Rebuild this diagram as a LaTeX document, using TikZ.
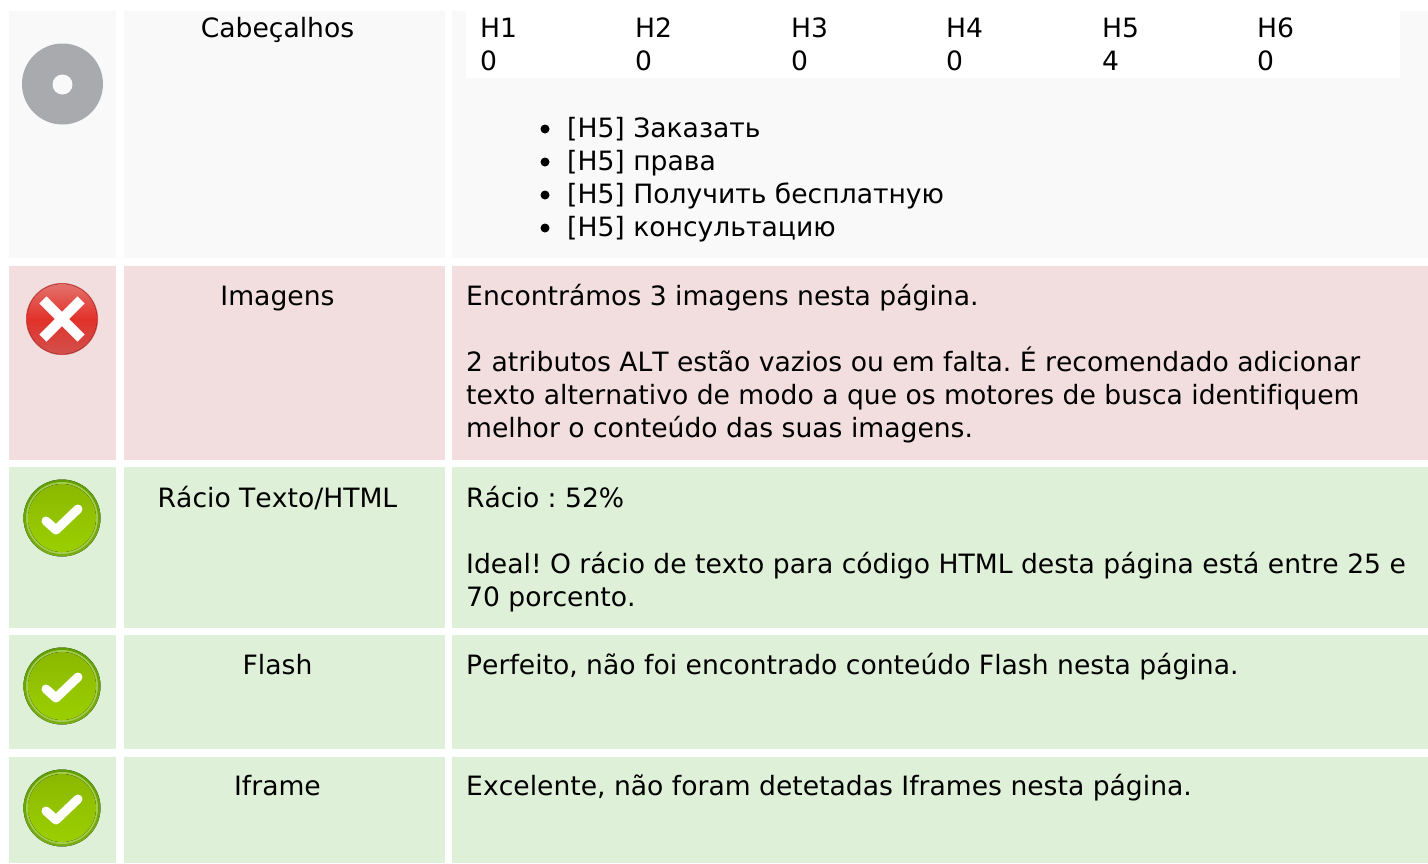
\documentclass[tikz,border=0pt]{standalone}
\usepackage{fontspec}
\setmainfont[Ligatures=NoCommon,Kerning=Off]{DejaVu Sans}
\frenchspacing
\definecolor{cellgrey}{HTML}{F9F9F9}
\definecolor{cellred}{HTML}{F2DEDE}
\definecolor{cellgreen}{HTML}{DFF0D8}
\definecolor{discgrey}{HTML}{A9AAAD}
\definecolor{okdark}{HTML}{5F9E00}
\definecolor{oklow}{HTML}{79AD14}
\definecolor{okring}{HTML}{A3CC4E}
\definecolor{oktop}{HTML}{8AB800}
\definecolor{okbot}{HTML}{9CCF00}
\definecolor{badrim}{HTML}{D24A46}
\definecolor{badtop}{HTML}{E4716C}
\definecolor{badmid}{HTML}{E2322A}
\definecolor{badbot}{HTML}{D2504C}
\tikzset{
  lbl/.style={inner sep=0pt,anchor=base,font=\fontsize{26.6}{33}\selectfont},
  txt/.style={lbl,anchor=base west},
  dot/.style={circle,fill=black,inner sep=0pt,minimum size=9pt},
  okicon/.pic={
    \fill[top color=okdark,bottom color=oklow] (0,0) circle (38.5);
    \fill[okring] (0,0) circle (36);
    \fill[top color=oktop,bottom color=okbot] (0,0) circle (34);
    \draw[white,line width=9pt,line cap=round,line join=round] (-16,3) -- (-6,12) -- (16,-9);
  },
  badicon/.pic={
    \fill[badrim] (0,0) circle (36);
    \fill[top color=badtop,bottom color=badbot,middle color=badmid] (0,0) circle (35);
    \draw[white,line width=10pt,line cap=rect] (-15.5,-15.5) -- (15.5,15.5) (-15.5,15.5) -- (15.5,-15.5);
  }
}
\begin{document}
\begin{tikzpicture}[x=1pt,y=-1pt]
\useasboundingbox (0,0) rectangle (1428,863);
% rows of cells
\foreach \rowname/\rowtop/\rowbot/\rowcol in {head/11/258/cellgrey,img/266/460/cellred,ratio/467/628/cellgreen,flash/635/749/cellgreen,iframe/757/863/cellgreen}{
  \fill[\rowcol] (9,\rowtop) rectangle (116,\rowbot);
  \fill[\rowcol] (124,\rowtop) rectangle (445,\rowbot);
  \fill[\rowcol] (452,\rowtop) rectangle (1428,\rowbot);
}
\fill[white] (466,11) rectangle (1400,78);
% icons
\fill[discgrey] (62.5,84) circle (40.5);
\fill[cellgrey] (62.5,84.5) circle (10);
\pic at (62,319) {badicon};
\pic at (62,518) {okicon};
\pic at (62,686) {okicon};
\pic at (62,808) {okicon};
% first column
\node[lbl] (head) at (277.5,37) {Cabeçalhos};
\node[lbl] (img) at (277.5,305) {Imagens};
\node[lbl] (ratio) at (277.5,507) {Rácio Texto/HTML};
\node[lbl] (flash) at (277.5,674) {Flash};
\node[lbl] (iframe) at (277.5,795) {Iframe};
% heading counts
\foreach \hname/\hval/\hx in {H1/0/480,H2/0/635,H3/0/791,H4/0/946,H5/4/1102,H6/0/1257}{
  \node[txt] (\hname) at (\hx,37) {\hname};
  \node[txt] (v\hname) at (\hx,70) {\hval};
}
% list of headings
\foreach \itemnum/\itemy/\itemtext in {1/137/Заказать,2/170/права,3/203/Получить бесплатную,4/236/консультацию}{
  \node[dot] (dot\itemnum) at (545,\itemy-8) {};
  \node[txt] (item\itemnum) at (567,\itemy) {[H5] \itemtext};
}
% messages
\node[txt] (imgA) at (466,305) {Encontrámos 3 imagens nesta página.};
\node[txt] (imgB) at (466,371) {2 atributos ALT estão vazios ou em falta. É recomendado adicionar};
\node[txt] (imgC) at (466,404) {texto alternativo de modo a que os motores de busca identifiquem};
\node[txt] (imgD) at (466,437) {melhor o conteúdo das suas imagens.};
\node[txt] (ratioA) at (466,507) {Rácio : 52\%};
\node[txt] (ratioB) at (466,573) {Ideal! O rácio de texto para código HTML desta página está entre 25 e};
\node[txt] (ratioC) at (466,606) {70 porcento.};
\node[txt] (flashA) at (466,674) {Perfeito, não foi encontrado conteúdo Flash nesta página.};
\node[txt] (iframeA) at (466,795) {Excelente, não foram detetadas Iframes nesta página.};
\end{tikzpicture}
\end{document}
